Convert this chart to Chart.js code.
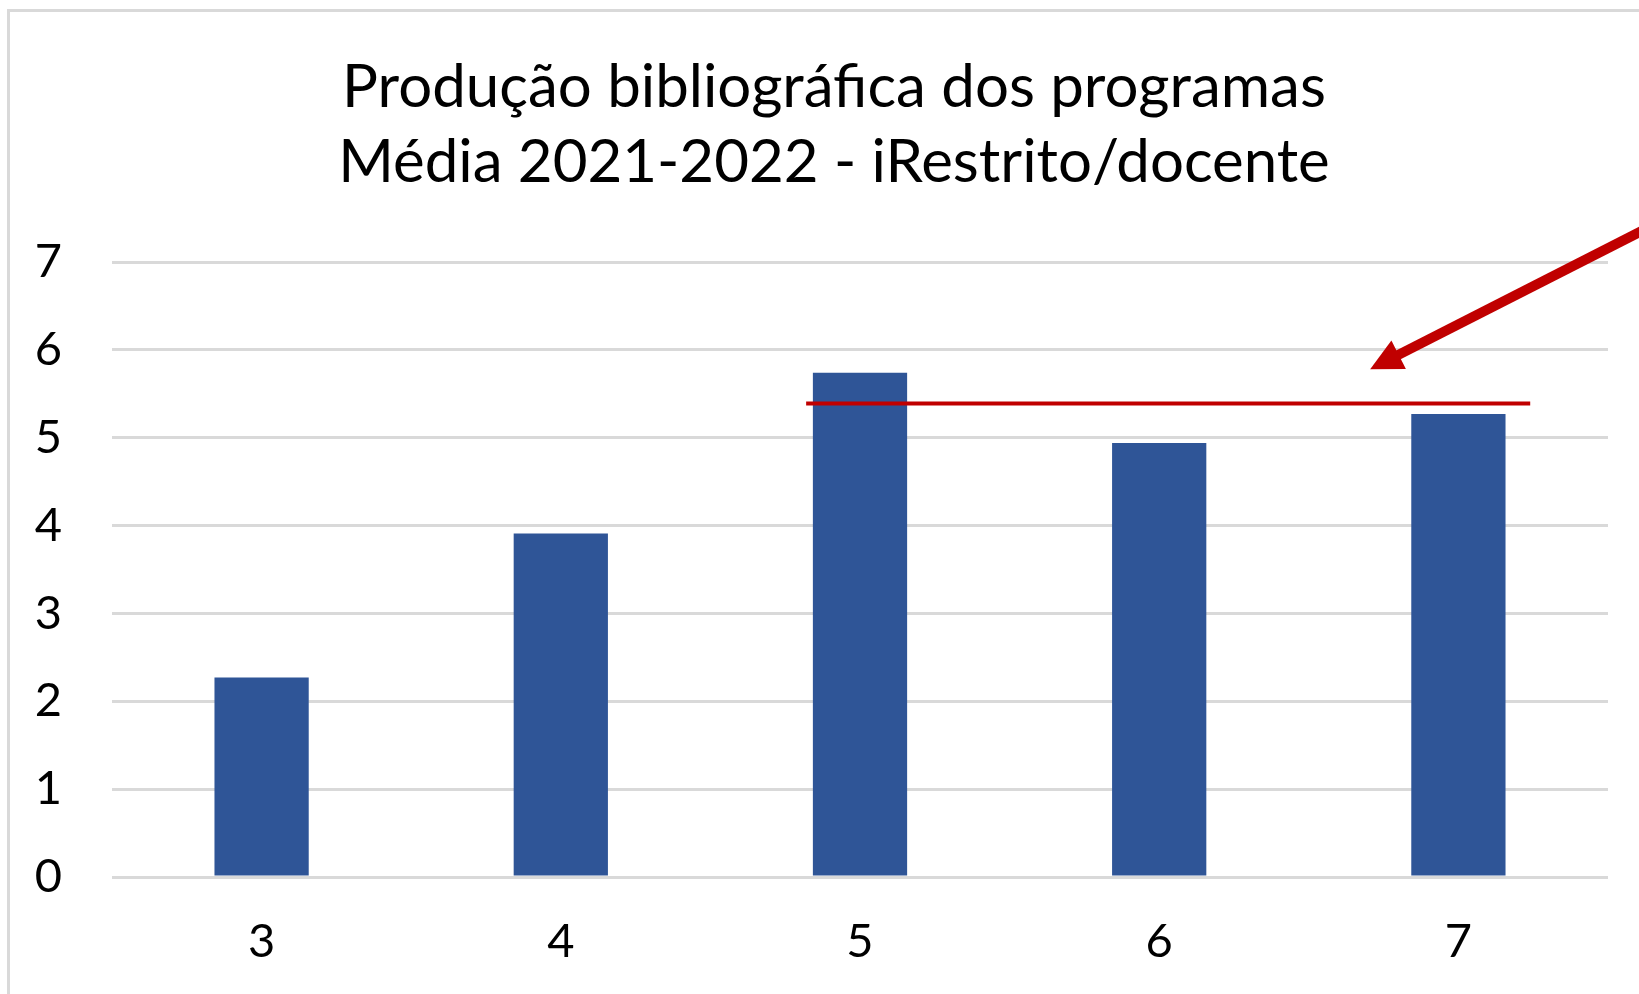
<html>
<head>
    <title>Produção bibliográfica dos programas</title>
    <script src="https://cdn.jsdelivr.net/npm/chart.js"></script>
</head>

<style>
    body {
        margin: 0;
        background-color: #ffffff;
        overflow: hidden;
    }
    #frame {
        position: absolute;
        left: 7px;
        top: 9px;
        width: 1700px;
        height: 1100px;
        border: 3px solid #d9d9d9;
    }
    #wrap {
        position: absolute;
        left: 0;
        top: 0;
        width: 1639px;
        height: 994px;
    }
</style>

<body>
    <div id="frame"></div>
    <div id="wrap">
        <canvas id="myChart"></canvas>
    </div>

    <script>
        // notas dos programas
        const categorias = ['3', '4', '5', '6', '7'];
        // média iRestrito/docente por nota
        const valores = [2.27, 3.91, 5.74, 4.94, 5.27];
        // linha vermelha de referência (posição em índice de categoria)
        const linhaRef = [{ x: 1.82, y: 5.39 }, { x: 4.24, y: 5.39 }];
        // seta: de fora do gráfico até a ponta
        const setaInicio = { x: 4.64, y: 7.40 };
        const setaFim = { x: 3.705, y: 5.78 };
        const yTicks = [0, 1, 2, 3, 4, 5, 6, 7];

        const fonte = 'Lato, "Open Sans", sans-serif';

        const setaPlugin = {
            id: 'seta',
            afterLayout(chart) {
                // o título fica centrado na moldura, um pouco à direita
                chart.titleBlock.left = 60;
            },
            afterDatasetsDraw(chart) {
                const ctx = chart.ctx;
                const xs = chart.scales.x2;
                const ys = chart.scales.y;
                const x1 = xs.getPixelForValue(setaInicio.x);
                const y1 = ys.getPixelForValue(setaInicio.y);
                const x2 = xs.getPixelForValue(setaFim.x);
                const y2 = ys.getPixelForValue(setaFim.y);
                const ang = Math.atan2(y2 - y1, x2 - x1);
                const head = 32;
                const half = 16;
                const bx = x2 - head * Math.cos(ang);
                const by = y2 - head * Math.sin(ang);
                ctx.save();
                ctx.strokeStyle = '#C00000';
                ctx.fillStyle = '#C00000';
                ctx.lineWidth = 10;
                ctx.beginPath();
                ctx.moveTo(x1, y1);
                ctx.lineTo(bx + 2 * Math.cos(ang), by + 2 * Math.sin(ang));
                ctx.stroke();
                ctx.beginPath();
                ctx.moveTo(x2, y2);
                ctx.lineTo(bx - half * Math.sin(ang), by + half * Math.cos(ang));
                ctx.lineTo(bx + half * Math.sin(ang), by - half * Math.cos(ang));
                ctx.closePath();
                ctx.fill();
                ctx.restore();
            }
        };

        const data = {
            labels: categorias,
            datasets: [
                {
                    type: 'line',
                    data: linhaRef,
                    xAxisID: 'x2',
                    borderColor: '#C00000',
                    borderWidth: 4,
                    pointRadius: 0,
                    order: 0
                },
                {
                    type: 'bar',
                    data: valores,
                    backgroundColor: '#2F5597',
                    grouped: false,
                    categoryPercentage: 1,
                    barPercentage: 0.315,
                    order: 1
                }
            ]
        };

        const config = {
            type: 'bar',
            data: data,
            plugins: [setaPlugin],
            options: {
                responsive: true,
                maintainAspectRatio: false,
                animation: false,
                layout: {
                    padding: { left: 0, right: 31, top: 0, bottom: 0 }
                },
                plugins: {
                    legend: { display: false },
                    tooltip: { enabled: false },
                    title: {
                        display: true,
                        text: ['Produção bibliográfica dos programas', 'Média 2021-2022 - iRestrito/docente'],
                        color: '#000000',
                        font: { family: fonte, size: 60, weight: 'normal', lineHeight: 1.25 },
                        padding: { top: 50, bottom: 62 }
                    }
                },
                scales: {
                    x: {
                        grid: { display: false, drawTicks: false },
                        border: { display: false },
                        ticks: {
                            color: '#000000',
                            font: { family: fonte, size: 47 },
                            padding: 37
                        },
                        afterFit(scale) { scale.height = 117; }
                    },
                    x2: {
                        type: 'linear',
                        display: false,
                        offset: false,
                        min: -0.5,
                        max: 4.5
                    },
                    y: {
                        min: 0,
                        max: 7,
                        afterBuildTicks(scale) {
                            scale.ticks = yTicks.map(v => ({ value: v }));
                        },
                        grid: { color: '#d9d9d9', lineWidth: 3, drawTicks: false },
                        border: { display: false },
                        ticks: {
                            color: '#000000',
                            font: { family: fonte, size: 47 },
                            padding: 50
                        },
                        afterFit(scale) { scale.width = 112; }
                    }
                }
            }
        };

        const myChart = new Chart(
            document.getElementById('myChart'),
            config
        );
    </script>
</body>
</html>
